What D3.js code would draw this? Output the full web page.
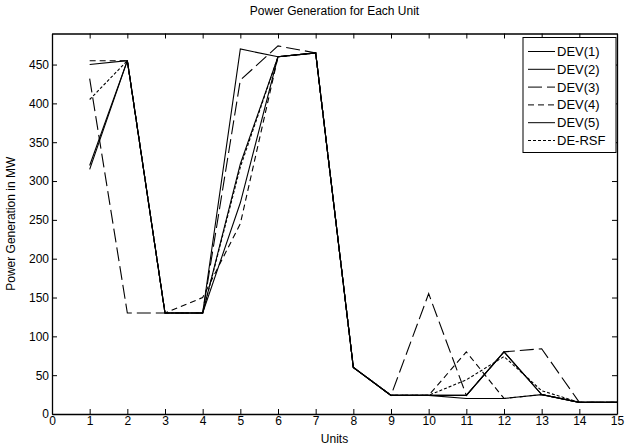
<!DOCTYPE html>
<html>
<head>
<meta charset="utf-8">
<script src="https://cdn.jsdelivr.net/npm/d3@7"></script>
<style>
  body { margin: 0; background: #fff; }
  svg { display: block; font-family: "Liberation Sans", Arial, sans-serif; }
  .axis path, .axis line { stroke: #000; }
  .axis text { font-size: 12px; fill: #000; }
</style>
</head>
<body>
<div id="chart_area"></div>
<script>
// data
var units = [1, 2, 3, 4, 5, 6, 7, 8, 9, 10, 11, 12, 13, 14, 15];
var seriesNames = ["DEV(1)", "DEV(2)", "DEV(3)", "DEV(4)", "DEV(5)", "DE-RSF"];
var dev1 = [450, 455, 130, 130, 470, 460, 465, 60, 24, 24, 20, 20, 25, 15, 15];
var dev2 = [315, 455, 130, 130, 272, 460, 465, 60, 24, 24, 24, 80, 25, 15, 15];
var dev3 = [432, 130, 130, 130, 430, 474, 465, 60, 24, 155, 24, 80, 84, 15, 15];
var dev4 = [455, 455, 130, 150, 245, 460, 465, 60, 24, 24, 80, 20, 25, 15, 15];
var dev5 = [320, 455, 130, 130, 322, 460, 465, 60, 24, 24, 24, 80, 25, 15, 15];
var deRsf = [405, 455, 130, 130, 318, 460, 465, 60, 24, 24, 44, 74, 30, 15, 15];
var xTicks = d3.range(0, 16);
var yTicks = d3.range(0, 451, 50);
var dashes = ["none", "none", "14,5", "6,4", "none", "3,2"];

var allSeries = [dev1, dev2, dev3, dev4, dev5, deRsf];

var chart_area = d3.select("#chart_area");
var frame = chart_area.append("svg");
var canvas = frame.append("g");

var margin = {top: 33.5, right: 10, bottom: 33, left: 52};
var frame_width = 627;
var frame_height = 447;
var canvas_width = frame_width - margin.left - margin.right;
var canvas_height = frame_height - margin.top - margin.bottom;

frame.attr("width", frame_width).attr("height", frame_height);
canvas.attr("transform", "translate(" + margin.left + "," + margin.top + ")");

var xScale = d3.scaleLinear().domain([0, 15]).range([0, canvas_width]);
var yScale = d3.scaleLinear().domain([0, 490]).range([canvas_height, 0]);

// lines
var line = d3.line()
    .x(function(d, i) { return xScale(units[i]); })
    .y(function(d) { return yScale(d); });

canvas.selectAll(".series")
    .data(allSeries)
    .enter().append("path")
    .attr("class", "series")
    .attr("d", line)
    .attr("fill", "none")
    .attr("stroke", "#000")
    .attr("stroke-width", 1.1)
    .attr("stroke-dasharray", function(d, i) { return dashes[i]; });

// axes, ticks pointing inward as in the original
canvas.append("g")
    .attr("class", "x axis")
    .attr("transform", "translate(0," + canvas_height + ")")
    .call(d3.axisBottom(xScale).tickValues(xTicks).tickSize(-5).tickPadding(2).tickSizeOuter(0));

canvas.append("g")
    .attr("class", "y axis")
    .call(d3.axisLeft(yScale).tickValues(yTicks).tickSize(-5).tickPadding(3).tickSizeOuter(0));

canvas.append("g")
    .attr("class", "axis")
    .call(d3.axisTop(xScale).tickValues(xTicks).tickSize(-5).tickSizeOuter(0).tickFormat(""));

canvas.append("g")
    .attr("class", "axis")
    .attr("transform", "translate(" + canvas_width + ",0)")
    .call(d3.axisRight(yScale).tickValues(yTicks).tickSize(-5).tickSizeOuter(0).tickFormat(""));

canvas.selectAll(".axis .domain").attr("stroke-width", 1.3);

// title and labels
frame.append("text")
    .attr("x", margin.left + canvas_width / 2)
    .attr("y", 15)
    .attr("text-anchor", "middle")
    .style("font-size", "12px")
    .text("Power Generation for Each Unit");

frame.append("text")
    .attr("x", margin.left + canvas_width / 2)
    .attr("y", 443)
    .attr("text-anchor", "middle")
    .style("font-size", "12px")
    .text("Units");

frame.append("text")
    .attr("transform", "translate(15," + (margin.top + canvas_height / 2) + ") rotate(-90)")
    .attr("text-anchor", "middle")
    .style("font-size", "12px")
    .text("Power Generation in MW");

// legend
var legend = canvas.append("g")
    .attr("transform", "translate(" + (canvas_width - 94) + ",4)");

legend.append("rect")
    .attr("width", 93).attr("height", 115)
    .attr("fill", "#fff").attr("stroke", "#000").attr("stroke-width", 1);

var rows = legend.selectAll(".row")
    .data(seriesNames)
    .enter().append("g")
    .attr("class", "row")
    .attr("transform", function(d, i) { return "translate(0," + (14 + i * 17.8) + ")"; });

rows.append("line")
    .attr("x1", 5).attr("x2", 32)
    .attr("stroke", "#000")
    .attr("stroke-dasharray", function(d, i) { return dashes[i]; });

rows.append("text")
    .attr("x", 34).attr("dy", "0.35em")
    .style("font-size", "13px")
    .text(function(d) { return d; });
</script>
</body>
</html>
